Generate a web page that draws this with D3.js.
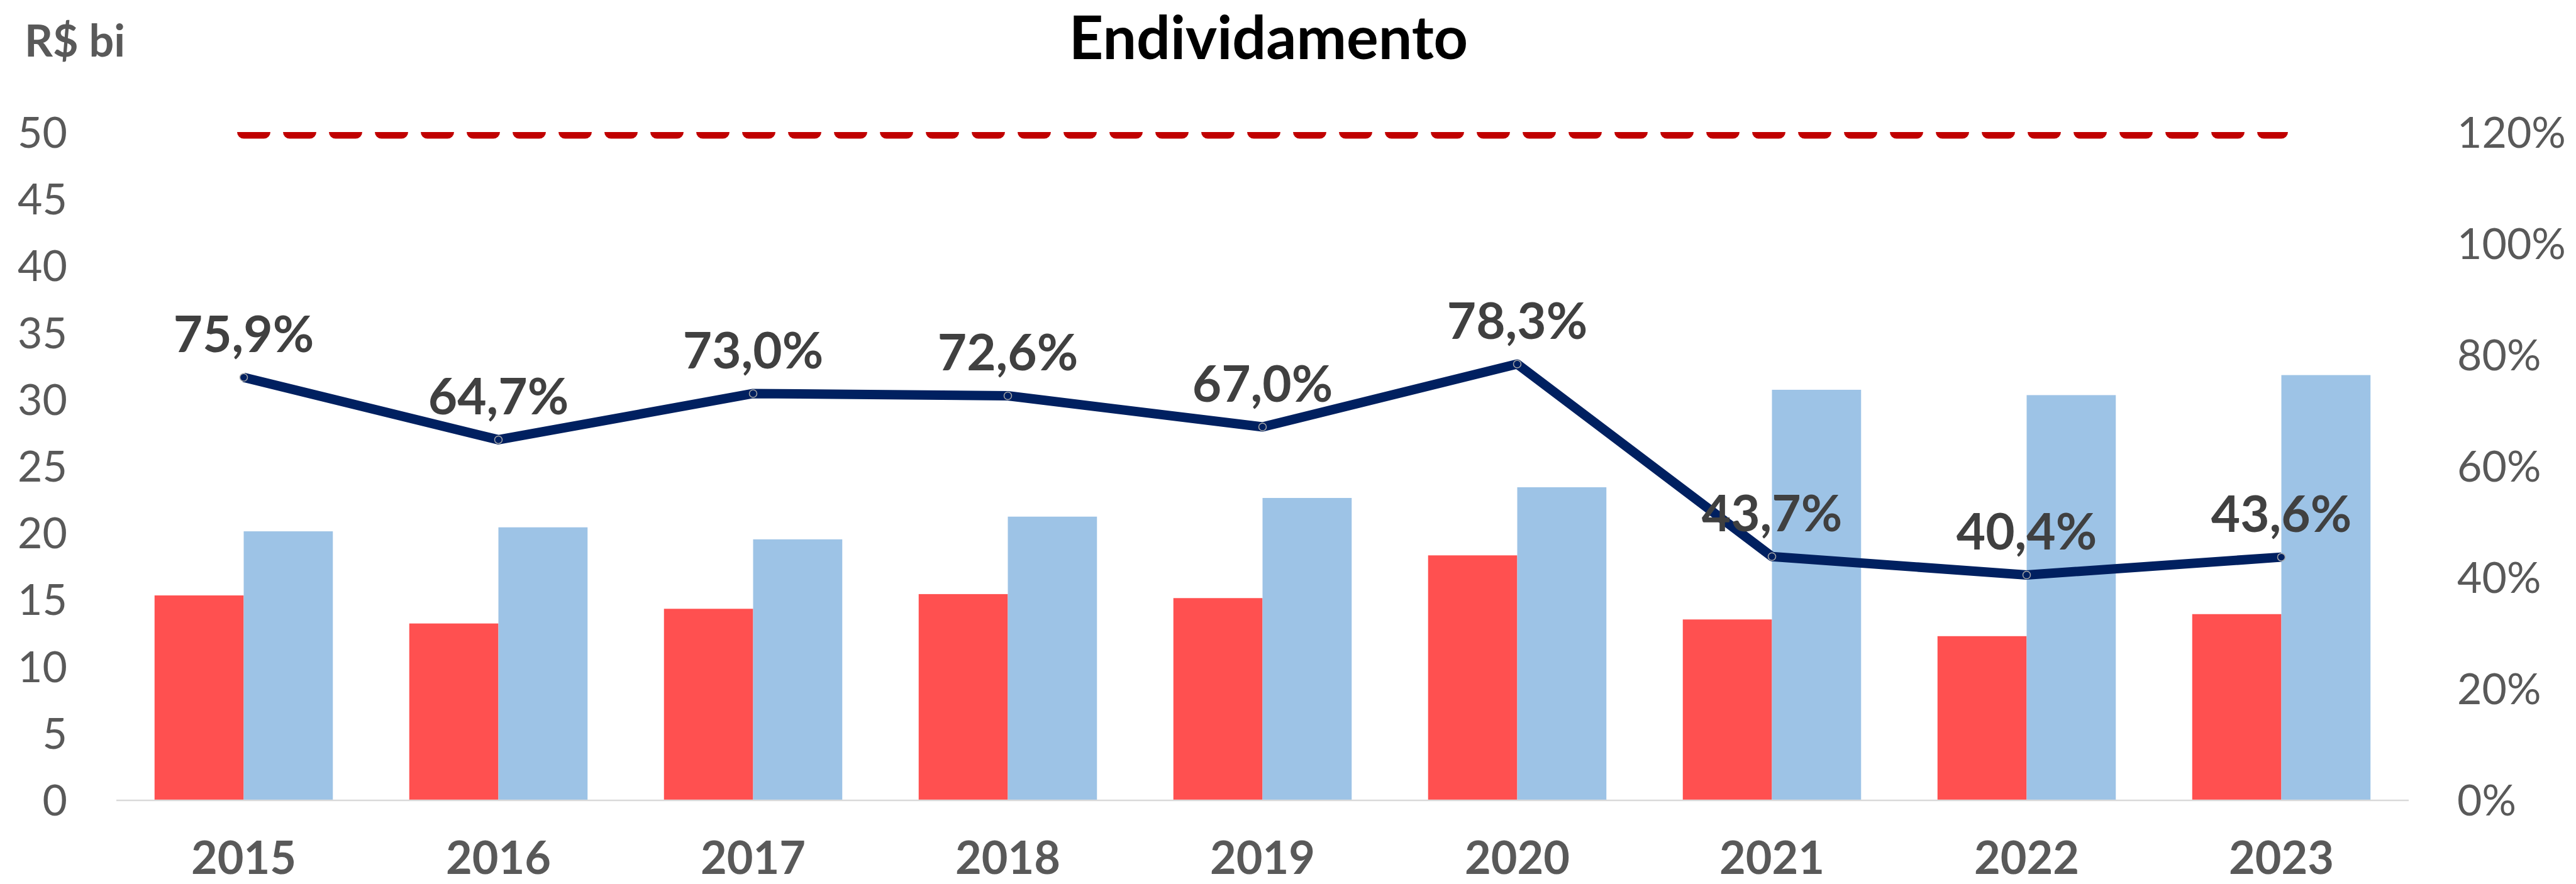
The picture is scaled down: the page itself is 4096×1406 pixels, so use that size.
<!DOCTYPE html>
<html>
<head>
<meta charset="utf-8">
<script src="https://cdn.jsdelivr.net/npm/d3@7"></script>
<style>
html, body { margin: 0; padding: 0; background: #ffffff; overflow: hidden; }
svg { display: block; }
</style>
</head>
<body>
<svg id="chart" width="4096" height="1406"></svg>
<script>
// ---- data ----
const years = ["2015", "2016", "2017", "2018", "2019", "2020", "2021", "2022", "2023"];
const seriesRed = [15.3, 13.2, 14.3, 15.4, 15.1, 18.3, 13.5, 12.25, 13.9];
const seriesBlue = [20.1, 20.4, 19.5, 21.2, 22.6, 23.4, 30.7, 30.3, 31.8];
const ratioValues = [0.759, 0.647, 0.730, 0.726, 0.670, 0.783, 0.437, 0.404, 0.436];
const limitValues = [1.2, 1.2, 1.2, 1.2, 1.2, 1.2, 1.2, 1.2, 1.2];
const leftTicks = [0, 5, 10, 15, 20, 25, 30, 35, 40, 45, 50];
const rightTicks = [0, 0.2, 0.4, 0.6, 0.8, 1.0, 1.2];
const titleText = "Endividamento";
const unitText = "R$ bi";

// ---- layout ----
const W = 4096, H = 1406;
const plot = { left: 185, right: 3830, top: 210, bottom: 1272 };
const FONT = "Lato, 'Open Sans', sans-serif";

const svg = d3.select("#chart");

const x0 = d3.scaleBand().domain(years).range([plot.left, plot.right])
  .paddingInner(0.3).paddingOuter(0.15);
const x1 = d3.scaleBand().domain(["red", "blue"]).range([0, x0.bandwidth()]).padding(0);
const yL = d3.scaleLinear().domain([0, 50]).range([plot.bottom, plot.top]);
const yR = d3.scaleLinear().domain([0, 1.2]).range([plot.bottom, plot.top]);
const cx = d => x0(d) + x0.bandwidth() / 2;

const ptBR = d3.formatLocale({ decimal: ",", thousands: ".", grouping: [3], currency: ["R$", ""] });
const fmtPct1 = ptBR.format(".1%");
const fmtPct0 = ptBR.format(".0%");

// clip to plot area
svg.append("defs").append("clipPath").attr("id", "plotClip")
  .append("rect").attr("x", 0).attr("y", plot.top).attr("width", W).attr("height", plot.bottom - plot.top);

// title
svg.append("text").attr("x", 2017).attr("y", 94)
  .attr("text-anchor", "middle").attr("font-family", FONT).attr("font-weight", 700)
  .attr("font-size", 95).attr("fill", "#000000").text(titleText);

// unit label
svg.append("text").attr("x", 39).attr("y", 90)
  .attr("font-family", FONT).attr("font-weight", 700)
  .attr("font-size", 70).attr("fill", "#595959").text(unitText);

// bars
const barData = [];
years.forEach((y, i) => {
  barData.push({ year: y, key: "red", v: seriesRed[i] });
  barData.push({ year: y, key: "blue", v: seriesBlue[i] });
});
const colors = { red: "#FF5050", blue: "#9DC3E6" };
svg.append("g").selectAll("rect").data(barData).join("rect")
  .attr("x", d => x0(d.year) + x1(d.key))
  .attr("width", x1.bandwidth())
  .attr("y", d => yL(d.v))
  .attr("height", d => yL(0) - yL(d.v))
  .attr("fill", d => colors[d.key]);

// baseline axis line
svg.append("line").attr("x1", plot.left).attr("x2", plot.right)
  .attr("y1", yL(0) + 1).attr("y2", yL(0) + 1)
  .attr("stroke", "#D9D9D9").attr("stroke-width", 2.5);

// left axis
const gL = svg.append("g").attr("transform", `translate(${107},0)`)
  .call(d3.axisLeft(yL).tickValues(leftTicks).tickSize(0).tickPadding(0).tickFormat(d3.format("d")));
gL.select(".domain").remove();
gL.selectAll("text").attr("font-family", FONT).attr("font-size", 68)
  .attr("fill", "#595959").attr("dy", "0.36em").attr("x", 0);

// right axis
const gR = svg.append("g").attr("transform", `translate(${3907},0)`)
  .call(d3.axisRight(yR).tickValues(rightTicks).tickSize(0).tickPadding(0).tickFormat(fmtPct0));
gR.select(".domain").remove();
gR.selectAll("text").attr("font-family", FONT).attr("font-size", 68)
  .attr("fill", "#595959").attr("dy", "0.36em").attr("x", 0);

// x axis labels
const gX = svg.append("g").attr("transform", `translate(0,${1390})`)
  .call(d3.axisBottom(x0).tickSize(0).tickPadding(0));
gX.select(".domain").remove();
gX.selectAll("text").attr("font-family", FONT).attr("font-size", 72).attr("font-weight", 700)
  .attr("fill", "#595959").attr("dy", 0).attr("y", 0);

// limit dashed line (clipped at plot top)
const limitLine = d3.line().x((d, i) => cx(years[i])).y(d => yR(d));
svg.append("path").datum(limitValues)
  .attr("clip-path", "url(#plotClip)")
  .attr("d", limitLine)
  .attr("fill", "none").attr("stroke", "#C00000").attr("stroke-width", 21)
  .attr("stroke-linecap", "round").attr("stroke-dasharray", "32 41");

// ratio line
const ratioLine = d3.line().x((d, i) => cx(years[i])).y(d => yR(d));
svg.append("path").datum(ratioValues)
  .attr("d", ratioLine)
  .attr("fill", "none").attr("stroke", "#002060").attr("stroke-width", 15)
  .attr("stroke-linejoin", "round");

svg.append("g").selectAll("circle").data(ratioValues).join("circle")
  .attr("cx", (d, i) => cx(years[i])).attr("cy", d => yR(d))
  .attr("r", 6).attr("fill", "#002060").attr("stroke", "#A6A6A6").attr("stroke-width", 1.5);

// ratio labels
svg.append("g").selectAll("text").data(ratioValues).join("text")
  .attr("x", (d, i) => cx(years[i]))
  .attr("y", d => yR(d) - 40)
  .attr("text-anchor", "middle")
  .attr("font-family", FONT).attr("font-weight", 700).attr("font-size", 80)
  .attr("fill", "#404040")
  .text(d => fmtPct1(d));
</script>
</body>
</html>
